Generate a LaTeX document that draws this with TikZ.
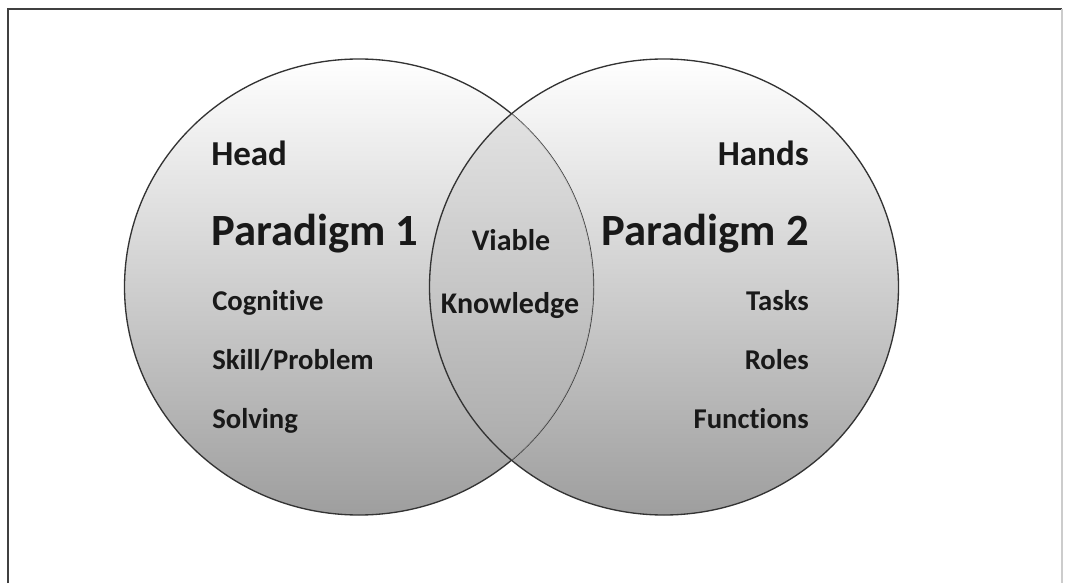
\documentclass[tikz,border=0pt]{standalone}
\usepackage{fontspec}
\setmainfont{Carlito}[Ligatures=NoCommon]

\begin{document}
\begin{tikzpicture}[
            x=0.75pt, y=0.75pt,
            every node/.append style={inner sep=0pt,text=black!90},
            word/.style={font=\bfseries\fontsize{21.5}{24}\selectfont},
            title/.style={font=\bfseries\fontsize{26.25}{30}\selectfont},
            para/.style={font=\bfseries\fontsize{33.5}{38}\selectfont},
            lenstext/.style={font=\bfseries\fontsize{22.5}{26}\selectfont},
            ring/.style={black!80,line width=1pt}
        ]
            \useasboundingbox (0,0) rectangle (1067,583);
            % frame
            \draw[black!75,line width=1.5pt] (8,0) -- (8,574) -- (1062,574);
            \draw[black!20,line width=1pt] (1062,574) -- (1062,0);
            % circles
            \coordinate (c1) at (359,296);
            \coordinate (c2) at (664,296);
            \shade[top color=white,bottom color=black!38] (c1) ellipse [x radius=234.5,y radius=228];
            \shade[top color=white,bottom color=black!38] (c2) ellipse [x radius=234.5,y radius=228];
            \draw[ring] (c1) ellipse [x radius=234.5,y radius=228];
            \begin{scope}
                \clip (c1) ellipse [x radius=234.5,y radius=228];
                \shade[top color=black!9,bottom color=black!36,opacity=0.85] (c2) ellipse [x radius=234.5,y radius=228];
            \end{scope}
            \draw[ring] (c2) ellipse [x radius=234.5,y radius=228];
            % left
            \node (head)  [title,anchor=base west] at (211,417) {Head};
            \node (par1)  [para,anchor=base west]  at (211,338) {Paradigm 1};
            \node (cog)   [word,anchor=base west]  at (212,273) {Cognitive};
            \node (skill) [word,anchor=base west]  at (212,214) {Skill/Problem};
            \node (solv)  [word,anchor=base west]  at (212,155) {Solving};
            % right
            \node (hands) [title,anchor=base east] at (809,417) {Hands};
            \node (par2)  [para,anchor=base east]  at (809,338) {Paradigm 2};
            \node (tasks) [word,anchor=base east]  at (809,273) {Tasks};
            \node (roles) [word,anchor=base east]  at (809,214) {Roles};
            \node (func)  [word,anchor=base east]  at (809,155) {Functions};
            % middle
            \node (viable) [lenstext,anchor=base] at (511,333) {Viable};
            \node (know)   [lenstext,anchor=base] at (510,270) {Knowledge};
        \end{tikzpicture}
\end{document}
